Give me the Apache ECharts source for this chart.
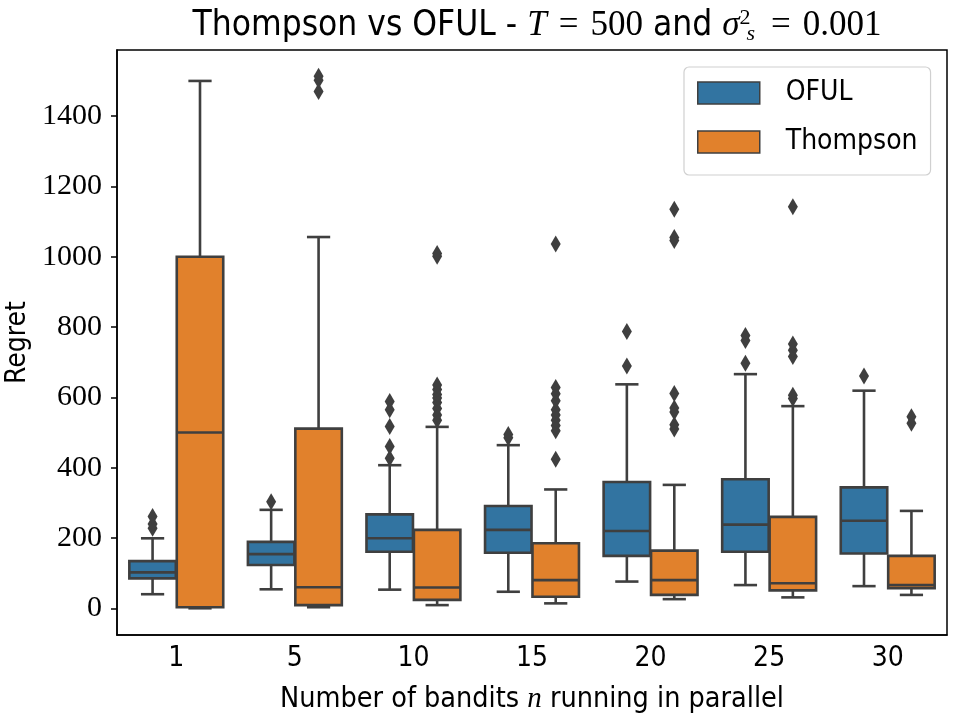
<!DOCTYPE html>
<html>
<head>
    <meta charset="utf-8">
    <title>Thompson vs OFUL</title>
    <script src="https://cdn.jsdelivr.net/npm/echarts@6/dist/echarts.min.js"></script>
    <style>
        html, body { margin: 0; padding: 0; background: #fff; }
    </style>
</head>
<body>
    <div id="main" style="width: 960px;height:720px;"></div>
    <script type="text/javascript">
        // categories: number of bandits running in parallel
        var categories = ['1', '5', '10', '15', '20', '25', '30'];

        // box stats per category: [min whisker, q1, median, q3, max whisker]
        var ofulStats = [
            [40, 85, 102, 134, 199],
            [54, 123, 154, 189, 280],
            [53, 161, 199, 267, 407],
            [47, 158, 223, 291, 464],
            [76, 149, 220, 359, 637],
            [66, 161, 238, 367, 666],
            [63, 156, 249, 344, 619]
        ];
        var thompsonStats = [
            [0, 3, 500, 1000, 1500],
            [3, 9, 60, 511, 1056],
            [9, 24, 59, 223, 516],
            [14, 33, 80, 185, 338],
            [26, 38, 80, 164, 351],
            [31, 51, 71, 260, 575],
            [38, 57, 66, 149, 277]
        ];

        // outliers: [category index, value]
        var ofulOutliers = [
            [0, 228], [0, 240], [0, 261],
            [1, 303],
            [2, 427], [2, 460], [2, 517], [2, 565], [2, 588],
            [3, 485], [3, 494],
            [4, 689], [4, 787],
            [5, 697], [5, 762], [5, 776],
            [6, 661]
        ];
        var thompsonOutliers = [
            [1, 1470], [1, 1502], [1, 1513],
            [2, 535], [2, 550], [2, 568], [2, 585], [2, 598], [2, 608], [2, 622], [2, 635], [2, 1001], [2, 1009],
            [3, 424], [3, 505], [3, 520], [3, 535], [3, 550], [3, 565], [3, 590], [3, 610], [3, 628], [3, 1036],
            [4, 510], [4, 522], [4, 558], [4, 570], [4, 611], [4, 1046], [4, 1055], [4, 1135],
            [5, 597], [5, 606], [5, 716], [5, 734], [5, 752], [5, 1142],
            [6, 526], [6, 545]
        ];

        var yTicks = [0, 200, 400, 600, 800, 1000, 1200, 1400];

        var lineColor = '#3f3f3f';
        var colors = ['#3274a1', '#e1812c'];
        var sansFont = "'Liberation Sans Narrow', 'DejaVu Sans Condensed', 'Liberation Sans', sans-serif";
        var serifFont = "'Liberation Serif', 'DejaVu Serif', serif";

        var myChart = echarts.init(document.getElementById('main'));

        function boxData(stats) {
            return stats.map(function (s, i) {
                return [i].concat(s);
            });
        }

        function boxRender(hue) {
            return function (params, api) {
                var cat = api.value(0);
                var band = api.size([1, 0])[0];
                var cx = api.coord([cat, 0])[0] + (hue === 0 ? -0.2 : 0.2) * band;
                var half = band * 0.196;
                var cap = half / 2;
                var yMin = api.coord([cat, api.value(1)])[1];
                var yQ1 = api.coord([cat, api.value(2)])[1];
                var yMed = api.coord([cat, api.value(3)])[1];
                var yQ3 = api.coord([cat, api.value(4)])[1];
                var yMax = api.coord([cat, api.value(5)])[1];
                var st = { stroke: lineColor, lineWidth: 2.6 };
                return {
                    type: 'group',
                    children: [
                        { type: 'line', shape: { x1: cx, y1: yMin, x2: cx, y2: yQ1 }, style: st },
                        { type: 'line', shape: { x1: cx, y1: yQ3, x2: cx, y2: yMax }, style: st },
                        { type: 'line', shape: { x1: cx - cap, y1: yMin, x2: cx + cap, y2: yMin }, style: st },
                        { type: 'line', shape: { x1: cx - cap, y1: yMax, x2: cx + cap, y2: yMax }, style: st },
                        {
                            type: 'rect',
                            shape: { x: cx - half, y: yQ3, width: half * 2, height: yQ1 - yQ3 },
                            style: { fill: colors[hue], stroke: lineColor, lineWidth: 2.6 }
                        },
                        { type: 'line', shape: { x1: cx - half, y1: yMed, x2: cx + half, y2: yMed }, style: st }
                    ]
                };
            };
        }

        function outlierRender(hue) {
            return function (params, api) {
                var cat = api.value(0);
                var band = api.size([1, 0])[0];
                var p = api.coord([cat, api.value(1)]);
                var cx = p[0] + (hue === 0 ? -0.2 : 0.2) * band;
                var w = 5, h = 8.5;
                return {
                    type: 'polygon',
                    shape: { points: [[cx, p[1] - h], [cx + w, p[1]], [cx, p[1] + h], [cx - w, p[1]]] },
                    style: { fill: lineColor }
                };
            };
        }

        var option = {
            animation: false,
            title: {
                text: '{s|Thompson vs OFUL - }{m|T}{eq|=}{r|500}{s| and }{m|σ}{sup|2}{sub|s}{eq|=}{r|0.001}',
                left: 532,
                top: 2,
                textAlign: 'center',
                textStyle: {
                    fontWeight: 'normal',
                    rich: {
                        s: { fontFamily: sansFont, fontSize: 35, fontWeight: 'normal', color: '#000' },
                        m: { fontFamily: serifFont, fontStyle: 'italic', fontWeight: 'normal', fontSize: 35, color: '#000' },
                        eq: { fontFamily: serifFont, fontSize: 35, fontWeight: 'normal', color: '#000', padding: [0, 12, 0, 12] },
                        r: { fontFamily: serifFont, fontSize: 35, fontWeight: 'normal', color: '#000' },
                        sup: { fontFamily: serifFont, fontSize: 22, fontWeight: 'normal', color: '#000', verticalAlign: 'top', width: 1, padding: [0, 0, 0, 5] },
                        sub: { fontFamily: serifFont, fontStyle: 'italic', fontWeight: 'normal', fontSize: 22, color: '#000', verticalAlign: 'bottom', padding: [16, 4, 0, 1] }
                    }
                }
            },
            legend: {
                orient: 'vertical',
                left: 684,
                top: 67,
                padding: [12, 13, 19, 13],
                itemWidth: 62,
                itemHeight: 22,
                itemGap: 21,
                backgroundColor: '#fff',
                borderColor: '#d0d0d0',
                borderWidth: 1.2,
                borderRadius: 5,
                icon: 'rect',
                itemStyle: { borderColor: lineColor, borderWidth: 1.5 },
                textStyle: { fontFamily: sansFont, fontSize: 28, color: '#000', padding: [0, 0, 0, 21] },
                data: ['OFUL', 'Thompson']
            },
            grid: {
                left: 117,
                right: 13,
                top: 50,
                bottom: 85,
                show: true,
                outerBoundsMode: 'none',
                containLabel: false,
                borderColor: '#000',
                borderWidth: 1.5,
                backgroundColor: 'transparent'
            },
            xAxis: {
                type: 'category',
                data: categories,
                boundaryGap: true,
                name: 'Number of bandits {m|n} running in parallel',
                nameLocation: 'middle',
                nameGap: 50,
                nameTextStyle: {
                    fontFamily: sansFont,
                    fontSize: 28.5,
                    color: '#000',
                    rich: { m: { fontFamily: serifFont, fontStyle: 'italic', fontSize: 29, color: '#000' } }
                },
                axisLine: { onZero: false, lineStyle: { color: '#000', width: 1.5 } },
                axisTick: { alignWithLabel: true, length: 6, lineStyle: { color: '#000', width: 1.5 } },
                axisLabel: { fontFamily: sansFont, fontSize: 28, color: '#000', margin: 10 },
                splitLine: { show: false }
            },
            yAxis: {
                type: 'value',
                min: -76,
                max: 1588,
                name: 'Regret',
                nameLocation: 'middle',
                nameRotate: 90,
                nameGap: 85,
                nameMoveOverlap: false,
                nameTextStyle: { fontFamily: sansFont, fontSize: 28, color: '#000' },
                axisLine: { show: true, lineStyle: { color: '#000', width: 1.5 } },
                axisTick: { show: true, length: 6, lineStyle: { color: '#000', width: 1.5 }, customValues: yTicks },
                axisLabel: {
                    fontFamily: serifFont, fontSize: 30, color: '#000', margin: 15, customValues: yTicks,
                    formatter: function (v) { return String(v); }
                },
                splitLine: { show: false }
            },
            series: [
                {
                    name: 'OFUL',
                    type: 'custom',
                    itemStyle: { color: colors[0] },
                    renderItem: boxRender(0),
                    encode: { x: 0, y: [1, 2, 3, 4, 5] },
                    data: boxData(ofulStats)
                },
                {
                    name: 'Thompson',
                    type: 'custom',
                    itemStyle: { color: colors[1] },
                    renderItem: boxRender(1),
                    encode: { x: 0, y: [1, 2, 3, 4, 5] },
                    data: boxData(thompsonStats)
                },
                {
                    name: 'OFUL',
                    type: 'custom',
                    itemStyle: { color: colors[0] },
                    renderItem: outlierRender(0),
                    encode: { x: 0, y: 1 },
                    data: ofulOutliers
                },
                {
                    name: 'Thompson',
                    type: 'custom',
                    itemStyle: { color: colors[1] },
                    renderItem: outlierRender(1),
                    encode: { x: 0, y: 1 },
                    data: thompsonOutliers
                }
            ]
        };

        myChart.setOption(option);
    </script>
</body>
</html>
